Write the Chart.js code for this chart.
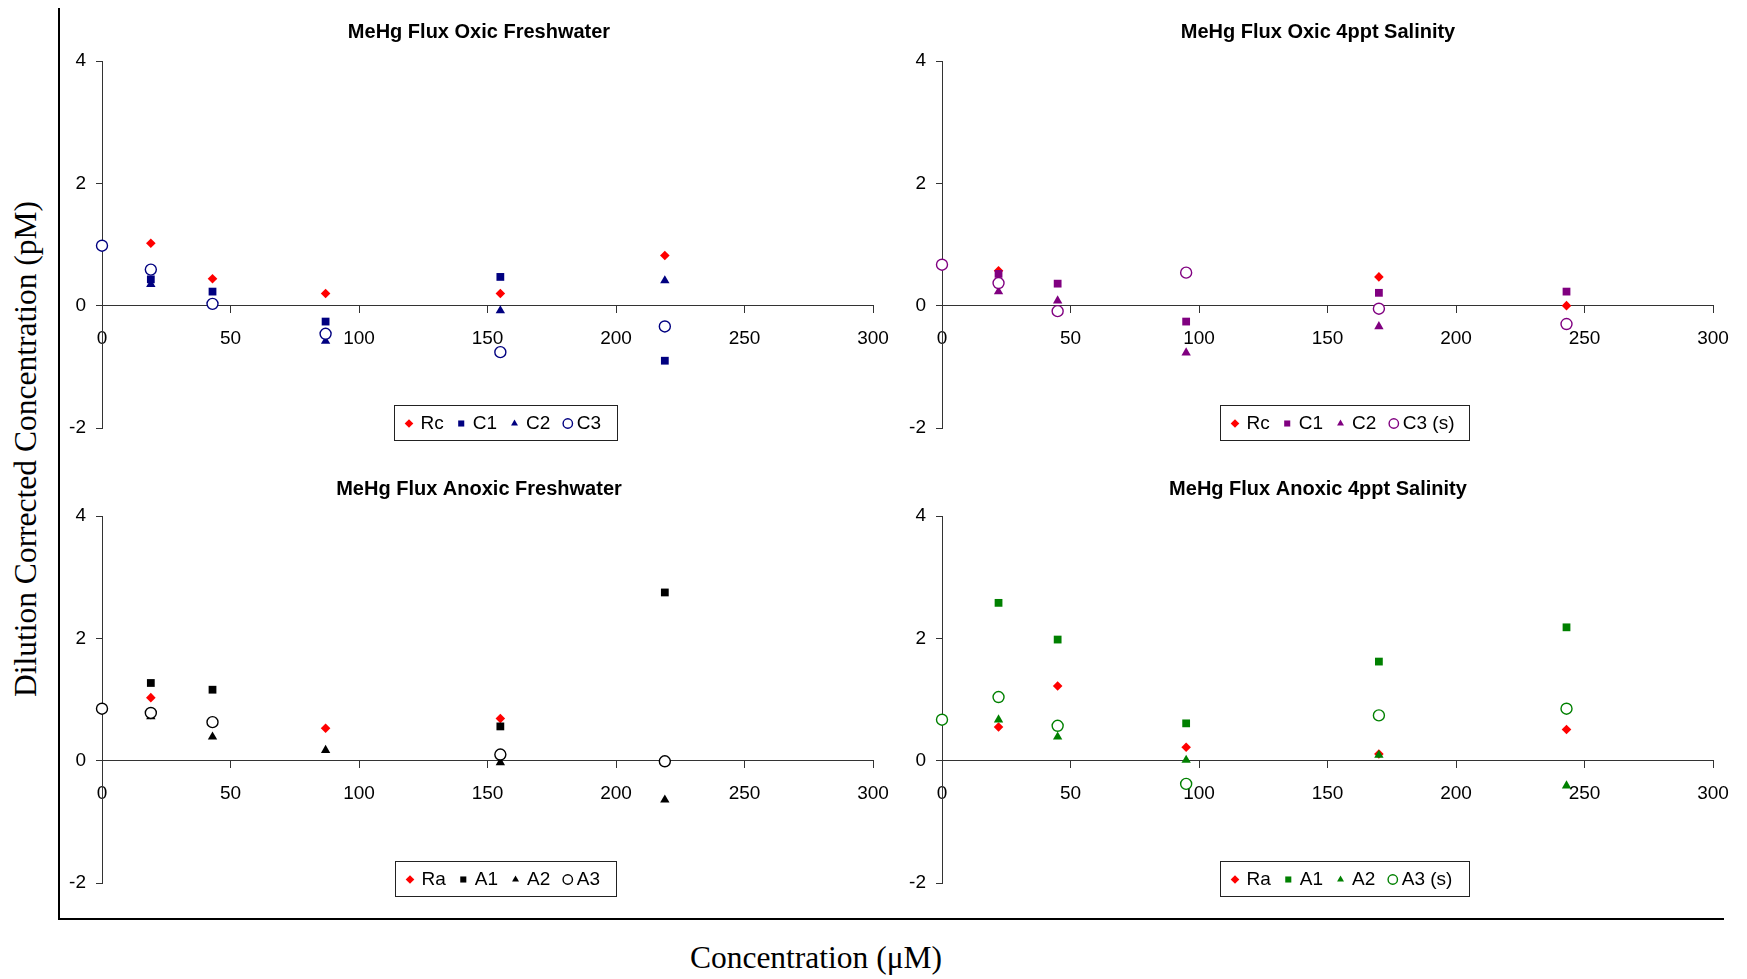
<!DOCTYPE html>
<html>
<head>
<meta charset="utf-8">
<title>MeHg Flux</title>
<script src="https://cdn.jsdelivr.net/npm/chart.js@4.4.1/dist/chart.umd.min.js"></script>
<style>
  html, body { margin: 0; padding: 0; background: #fff; }
  #page { position: relative; width: 1747px; height: 979px; overflow: hidden; background: #fff; }
  .panel { position: absolute; width: 840px; height: 440px; }
  .panel canvas { display: block; }
  #frameLeft { position: absolute; left: 58px; top: 8px; width: 2px; height: 912px; background: #000; }
  #frameBottom { position: absolute; left: 58px; top: 918px; width: 1666px; height: 2px; background: #000; }
  .axisTitle { position: absolute; white-space: nowrap; color: #000;
               font-family: "Liberation Serif", "Times New Roman", serif; font-size: 31.5px; line-height: 1; }
  #yTitle { left: 26px; top: 449px; transform: translate(-50%, -50%) rotate(-90deg); }
  #xTitle { left: 816px; top: 958px; transform: translate(-50%, -50%); }
</style>
</head>
<body>
<div id="page">
  <div class="panel" style="left:60px;top:10px;"><canvas id="oxicFresh" width="840" height="440"></canvas></div>
  <div class="panel" style="left:900px;top:10px;"><canvas id="oxicSalt" width="840" height="440"></canvas></div>
  <div class="panel" style="left:60px;top:460px;"><canvas id="anoxicFresh" width="840" height="440"></canvas></div>
  <div class="panel" style="left:900px;top:460px;"><canvas id="anoxicSalt" width="840" height="440"></canvas></div>
  <div id="frameLeft"></div>
  <div id="frameBottom"></div>
  <div class="axisTitle" id="yTitle">Dilution Corrected Concentration (pM)</div>
  <div class="axisTitle" id="xTitle">Concentration (μM)</div>
</div>
<script>
// ---- data ----
const xTickValues = [0, 50, 100, 150, 200, 250, 300];
const yTickValues = [-2, 0, 2, 4];

// spike concentrations (μM)
const concFresh = [0, 19, 43, 87, 155, 219];
const concSalt  = [0, 22, 45, 95, 170, 243];

// Oxic, freshwater
const oxicFreshRc = [null, 1.02, 0.44, 0.20, 0.20, 0.82];
const oxicFreshC1 = [null, 0.43, 0.23, -0.26, 0.47, -0.90];
const oxicFreshC2 = [null, 0.35, null, -0.58, -0.08, 0.41];
const oxicFreshC3 = [0.98, 0.59, 0.03, -0.46, -0.76, -0.34];

// Oxic, 4ppt salinity
const oxicSaltRc = [null, 0.57, null, null, 0.47, 0.00];
const oxicSaltC1 = [null, 0.52, 0.36, -0.26, 0.21, 0.23];
const oxicSaltC2 = [null, 0.23, 0.08, -0.77, -0.34, null];
const oxicSaltC3 = [0.67, 0.37, -0.09, 0.54, -0.05, -0.30];

// Anoxic, freshwater
const anoxicFreshRa = [null, 1.03, null, 0.53, 0.69, null];
const anoxicFreshA1 = [null, 1.27, 1.16, null, 0.56, 2.75];
const anoxicFreshA2 = [null, 0.72, 0.39, 0.17, -0.03, -0.64];
const anoxicFreshA3 = [0.85, 0.78, 0.63, null, 0.10, -0.01];

// Anoxic, 4ppt salinity
const anoxicSaltRa = [null, 0.55, 1.22, 0.22, 0.11, 0.51];
const anoxicSaltA1 = [null, 2.58, 1.98, 0.61, 1.62, 2.18];
const anoxicSaltA2 = [null, 0.67, 0.39, 0.01, 0.09, -0.41];
const anoxicSaltA3 = [0.67, 1.04, 0.57, -0.38, 0.74, 0.85];

// ---- styling ----
const AXIS_COLOR = '#333333';
const SANS = '"Liberation Sans", Arial, Helvetica, sans-serif';
const TICK_FONT = { family: SANS, size: 19 };
const POINT_R  = { rectRot: 4.8, rect: 5.5, triangle: 5.4, circle: 5.5 };
const LEGEND_R = { rectRot: 4.3, rect: 4.3, triangle: 4.0, circle: 4.7 };

function series(label, xs, ys, style, color, order) {
  const hollow = style === 'circle';
  return {
    label,
    data: xs.map((x, i) => ({ x, y: ys[i] })).filter(p => p.y !== null),
    pointStyle: style,
    pointRadius: POINT_R[style],
    pointHoverRadius: POINT_R[style],
    pointBackgroundColor: hollow ? '#ffffff' : color,
    pointBorderColor: color,
    pointBorderWidth: hollow ? 1.4 : 0,
    showLine: false,
    clip: false,
    order
  };
}

function flattenPadding(s) {
  s.paddingLeft = 0; s.paddingRight = 0; s.paddingTop = 0; s.paddingBottom = 0;
}

function scales(yAxisWidth) {
  return {
    x: {
      type: 'linear',
      min: xTickValues[0],
      max: xTickValues[xTickValues.length - 1],
      position: { y: 0 },
      afterBuildTicks: s => { s.ticks = xTickValues.map(v => ({ value: v })); },
      afterFit: s => { s.height = 0; flattenPadding(s); },
      grid: { drawOnChartArea: false, drawTicks: true, tickLength: 7, color: AXIS_COLOR, lineWidth: 1 },
      border: { display: true, color: AXIS_COLOR, width: 1 },
      ticks: { font: TICK_FONT, color: '#000', padding: 14.5, maxRotation: 0, minRotation: 0, autoSkip: false }
    },
    y: {
      type: 'linear',
      min: yTickValues[0],
      max: yTickValues[yTickValues.length - 1],
      position: 'left',
      afterBuildTicks: s => { s.ticks = yTickValues.map(v => ({ value: v })); },
      afterFit: s => {
        s.width = yAxisWidth;
        flattenPadding(s);
        // labels sit left of the narrow axis box; let them use the whole left margin
        s._computeLabelArea = () => ({ top: 0, left: 0, bottom: s.chart.height, right: s.right });
      },
      grid: { drawOnChartArea: false, drawTicks: true, tickLength: 6, color: AXIS_COLOR, lineWidth: 1 },
      border: { display: true, color: AXIS_COLOR, width: 1 },
      ticks: { font: TICK_FONT, color: '#000', padding: 10, autoSkip: false }
    }
  };
}

// Boxed legend drawn inside the plot area
const boxLegend = {
  id: 'boxLegend',
  afterDraw(chart, args, opts) {
    const ctx = chart.ctx;
    ctx.save();
    ctx.fillStyle = '#ffffff';
    ctx.fillRect(opts.left, opts.top, opts.width, opts.height);
    ctx.strokeStyle = '#222222';
    ctx.lineWidth = 1;
    ctx.strokeRect(Math.round(opts.left) + 0.5, Math.round(opts.top) + 0.5, Math.round(opts.width), Math.round(opts.height));
    ctx.font = '19px ' + SANS;
    ctx.textBaseline = 'middle';
    ctx.textAlign = 'left';
    const cy = opts.top + opts.height / 2 + 1;
    let x = opts.left + 15;
    chart.data.datasets.forEach(ds => {
      ctx.fillStyle = ds.pointBackgroundColor;
      ctx.strokeStyle = ds.pointBorderColor;
      ctx.lineWidth = ds.pointBorderWidth || 0;
      Chart.helpers.drawPoint(ctx, {
        pointStyle: ds.pointStyle, radius: LEGEND_R[ds.pointStyle],
        borderWidth: ds.pointBorderWidth || 0, rotation: 0
      }, x, cy);
      const tx = x + (ds.pointStyle === 'circle' ? 9 : 11.5);
      ctx.fillStyle = '#000';
      ctx.fillText(ds.label, tx, cy);
      x = tx + ctx.measureText(ds.label).width + 17.5;
    });
    ctx.restore();
  }
};

function makePanel(id, title, datasets, g) {
  return new Chart(document.getElementById(id), {
    type: 'scatter',
    data: { datasets },
    options: {
      responsive: false,
      animation: false,
      events: [],
      layout: { autoPadding: false, padding: g.padding },
      scales: scales(g.yAxisWidth),
      plugins: {
        legend: { display: false },
        tooltip: { enabled: false },
        title: {
          display: true, text: title, color: '#000',
          font: { family: SANS, size: 20, weight: 'bold', lineHeight: 1.2 },
          padding: { top: 0, bottom: g.titleGap }
        },
        boxLegend: g.legend
      }
    },
    plugins: [boxLegend]
  });
}

const RED = '#ff0000', NAVY = '#000080', PURPLE = '#800080', BLACK = '#000000', GREEN = '#008000';

makePanel('oxicFresh', 'MeHg Flux Oxic Freshwater', [
  series('Rc', concFresh, oxicFreshRc, 'rectRot', RED, 3),
  series('C1', concFresh, oxicFreshC1, 'rect', NAVY, 2),
  series('C2', concFresh, oxicFreshC2, 'triangle', NAVY, 1),
  series('C3', concFresh, oxicFreshC3, 'circle', NAVY, 0)
], { padding: { left: 25, right: 27, top: 10, bottom: 22 }, yAxisWidth: 17, titleGap: 17,
     legend: { left: 334, top: 395, width: 223, height: 35 } });

makePanel('oxicSalt', 'MeHg Flux Oxic 4ppt Salinity', [
  series('Rc', concSalt, oxicSaltRc, 'rectRot', RED, 3),
  series('C1', concSalt, oxicSaltC1, 'rect', PURPLE, 2),
  series('C2', concSalt, oxicSaltC2, 'triangle', PURPLE, 1),
  series('C3 (s)', concSalt, oxicSaltC3, 'circle', PURPLE, 0)
], { padding: { left: 23, right: 27, top: 10, bottom: 22 }, yAxisWidth: 19, titleGap: 17,
     legend: { left: 320, top: 395, width: 249, height: 35 } });

makePanel('anoxicFresh', 'MeHg Flux Anoxic Freshwater', [
  series('Ra', concFresh, anoxicFreshRa, 'rectRot', RED, 3),
  series('A1', concFresh, anoxicFreshA1, 'rect', BLACK, 2),
  series('A2', concFresh, anoxicFreshA2, 'triangle', BLACK, 1),
  series('A3', concFresh, anoxicFreshA3, 'circle', BLACK, 0)
], { padding: { left: 25, right: 27, top: 17, bottom: 17 }, yAxisWidth: 17, titleGap: 15,
     legend: { left: 335, top: 401, width: 221, height: 35 } });

makePanel('anoxicSalt', 'MeHg Flux Anoxic 4ppt Salinity', [
  series('Ra', concSalt, anoxicSaltRa, 'rectRot', RED, 3),
  series('A1', concSalt, anoxicSaltA1, 'rect', GREEN, 2),
  series('A2', concSalt, anoxicSaltA2, 'triangle', GREEN, 1),
  series('A3 (s)', concSalt, anoxicSaltA3, 'circle', GREEN, 0)
], { padding: { left: 23, right: 27, top: 17, bottom: 17 }, yAxisWidth: 19, titleGap: 15,
     legend: { left: 320, top: 401, width: 249, height: 35 } });
</script>
</body>
</html>
